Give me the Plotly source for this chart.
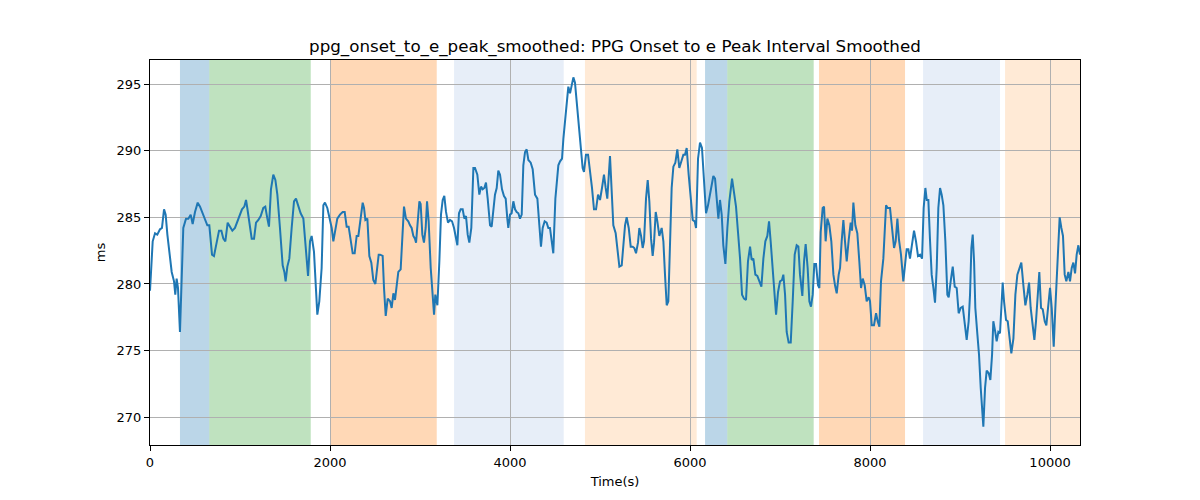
import plotly.graph_objects as go

# ---- data ----
time_s = [
    0, 30, 56, 81, 111, 133, 156, 174, 193, 215, 241, 267, 281, 296, 311, 333, 352, 370, 400, 426,
    452, 474, 500, 530, 556, 585, 611, 637, 659, 689, 711, 741, 767, 793, 815, 837, 863, 889, 915, 944,
    970, 993, 1022, 1048, 1067, 1081, 1104, 1130, 1156, 1178, 1204, 1230, 1259, 1281, 1304, 1322, 1344, 1370, 1393, 1415,
    1444, 1474, 1493, 1507, 1526, 1548, 1574, 1600, 1622, 1648, 1674, 1704, 1730, 1756, 1778, 1796, 1822, 1841, 1859, 1881,
    1907, 1926, 1944, 1970, 2000, 2019, 2037, 2059, 2081, 2111, 2141, 2163, 2185, 2207, 2230, 2252, 2274, 2296, 2315, 2341,
    2363, 2378, 2393, 2415, 2437, 2459, 2481, 2504, 2519, 2541,
    2556, 2585, 2600, 2619, 2641, 2667, 2685, 2704, 2722, 2741, 2759, 2785, 2807, 2822, 2844, 2870, 2889, 2907, 2926, 2944,
    2956, 2974, 2993, 3007, 3026, 3044, 3063, 3078, 3096, 3119, 3141, 3156, 3170, 3193, 3215, 3233, 3252, 3270, 3289, 3311,
    3333, 3356, 3378, 3400, 3415, 3433, 3452, 3474, 3493, 3511, 3530, 3548, 3570, 3593, 3611, 3637, 3659, 3678, 3696, 3715,
    3733, 3752, 3778, 3796, 3815, 3833, 3852, 3870, 3889, 3911, 3933, 3952, 3970, 3981, 4000, 4018, 4037, 4056, 4074, 4093,
    4111, 4130, 4148, 4167, 4185, 4204, 4230, 4252, 4278, 4304, 4326, 4344, 4363, 4385, 4407, 4426, 4444, 4463, 4481, 4504,
    4519, 4537, 4556, 4578, 4593, 4615, 4630, 4648, 4667, 4685, 4704, 4722, 4741, 4767, 4789, 4807, 4822, 4844, 4867, 4889,
    4911, 4933, 4956, 4978, 5000, 5022, 5044, 5063, 5081,
    5111, 5130, 5148, 5174, 5193, 5215, 5241, 5259, 5278, 5296, 5319, 5341, 5363, 5381, 5400, 5422, 5437, 5456, 5474, 5489,
    5511, 5530, 5548, 5567, 5585, 5600, 5619, 5637, 5659, 5685, 5704, 5722, 5741, 5759, 5778, 5796, 5815, 5837, 5859, 5881,
    5904, 5926, 5944, 5963, 5985, 6007, 6030, 6052, 6067, 6089, 6111, 6133, 6156, 6178, 6200, 6222, 6241, 6259, 6278, 6296,
    6315, 6333, 6352, 6370, 6393, 6415, 6437, 6467, 6489, 6511, 6533, 6556, 6578, 6600, 6622, 6644, 6667, 6685, 6704, 6726,
    6748, 6770, 6793, 6815, 6837, 6859, 6878, 6896, 6919, 6941, 6956, 6978, 7000, 7022, 7037, 7056, 7074, 7096, 7119, 7141,
    7163, 7185, 7204, 7222, 7248, 7267, 7285, 7307, 7326, 7344, 7363, 7381, 7400, 7422, 7437, 7452, 7474, 7489, 7507, 7526,
    7548, 7570, 7593, 7611, 7630, 7652,
    7667, 7685, 7704, 7722, 7741, 7763, 7785, 7800, 7815, 7837, 7859, 7881, 7900, 7919, 7941, 7963, 7985, 8000, 8019, 8044,
    8067, 8085, 8104, 8122, 8148, 8178, 8196, 8222, 8244, 8267, 8285, 8304, 8322, 8344, 8370, 8389, 8407, 8426, 8444, 8463,
    8489, 8511, 8533, 8556, 8578, 8596, 8615, 8630, 8648, 8667, 8685, 8704, 8722, 8741, 8759, 8778, 8796, 8815, 8837, 8859,
    8874, 8896, 8919, 8941, 8963, 8985, 9007, 9030, 9052, 9074, 9096, 9111, 9126, 9141, 9156, 9170, 9193, 9211, 9230, 9248,
    9259, 9278, 9296, 9319, 9337, 9356, 9370, 9389, 9407, 9426, 9444, 9459, 9474, 9489, 9511, 9530, 9548, 9570, 9593, 9615,
    9637, 9659, 9681, 9704, 9726, 9748, 9767, 9785, 9807, 9826, 9844, 9867, 9881, 9900, 9919, 9941, 9959, 9978, 10000, 10019,
    10041, 10059, 10074, 10093, 10107, 10126, 10144, 10163, 10181, 10204, 10222, 10241, 10259, 10278, 10296, 10315, 10333,
]
interval_ms = [
    279.5, 283.2, 283.8, 283.7, 284.1, 284.2, 285.6, 285.2, 283.7, 282.4, 280.9, 280.2, 279.2, 280.4, 279.7, 276.4, 280.9, 284.2, 284.9, 284.9,
    285.2, 284.5, 285.4, 286.1, 285.8, 285.3, 284.8, 284.4, 284.4, 282.2, 282.1, 283.2, 284.0, 284.0, 283.4, 283.2, 284.6, 284.3, 284.0, 284.2,
    284.7, 285.1, 285.6, 285.8, 286.3, 285.7, 284.4, 283.4, 283.4, 284.6, 284.8, 285.1, 285.7, 285.8, 284.9, 284.3, 287.1, 288.2, 287.8, 286.7,
    284.2, 281.4, 280.9, 280.2, 281.3, 281.9, 284.2, 286.2, 286.4, 285.9, 285.3, 284.9, 282.7, 280.6, 283.2, 283.6, 282.4, 279.7, 277.7, 278.7,
    281.2, 285.9, 286.1, 285.7, 284.9, 284.2, 283.2, 284.0, 284.9, 285.2, 285.4, 285.4, 284.3, 284.3, 283.2, 282.3, 282.3, 283.6, 283.6, 284.9,
    286.1, 285.7, 284.8, 284.9, 282.1, 281.6, 280.3, 280.0, 280.9, 282.2,
    282.2, 282.1, 279.7, 277.6, 278.9, 278.7, 278.2, 279.3, 278.8, 279.7, 280.9, 281.1, 283.7, 285.8, 284.9, 284.7, 284.4, 284.2, 283.6, 283.4,
    283.1, 284.9, 286.2, 286.0, 283.7, 283.1, 284.2, 286.2, 284.7, 281.2, 279.2, 277.7, 279.2, 278.4, 281.7, 285.2, 286.3, 286.6, 285.4, 284.6,
    284.8, 284.7, 284.2, 283.3, 282.9, 285.3, 285.6, 285.6, 284.9, 285.1, 283.7, 283.1, 284.2, 288.7, 288.7, 288.2, 286.7, 287.3, 287.1, 287.2,
    287.6, 286.4, 284.4, 284.3, 285.8, 286.7, 287.2, 288.5, 288.2, 287.1, 286.6, 286.4, 284.9, 284.2, 285.2, 285.3, 286.2, 285.6, 285.4, 285.3,
    284.9, 285.2, 288.9, 289.9, 290.1, 289.3, 289.1, 288.6, 286.7, 286.4, 284.4, 282.8, 284.2, 284.7, 284.6, 284.2, 284.2, 283.4, 282.3, 286.4,
    287.9, 288.9, 289.2, 289.4, 290.9, 292.7, 293.9, 294.8, 294.3, 294.8, 295.5, 295.1, 293.7, 291.7, 290.2, 288.7, 288.4, 289.7, 289.7, 288.6,
    287.2, 285.6, 285.6, 286.7, 286.3, 287.2, 288.2, 287.2, 286.4,
    289.6, 287.2, 284.4, 283.8, 282.4, 281.3, 281.4, 283.2, 284.4, 285.0, 284.2, 282.8, 282.8, 282.7, 282.3, 283.1, 284.2, 283.6, 282.7, 283.2,
    286.4, 287.8, 286.2, 283.4, 282.1, 283.1, 285.4, 284.7, 283.6, 284.2, 283.2, 280.7, 278.4, 278.7, 282.7, 287.2, 288.8, 289.1, 290.1, 288.7,
    289.2, 289.7, 289.7, 290.2, 288.2, 286.4, 284.8, 284.7, 284.2, 289.4, 290.6, 290.2, 287.7, 285.3, 285.9, 286.7, 287.2, 288.1, 287.9, 286.2,
    284.9, 286.3, 285.2, 282.9, 281.5, 284.2, 286.2, 287.9, 286.9, 285.8, 283.9, 281.9, 279.2, 278.9, 278.8, 281.7, 282.8, 281.8, 281.9, 280.7,
    280.6, 280.2, 279.8, 281.9, 283.2, 283.6, 284.7, 283.2, 281.2, 279.2, 277.7, 279.4, 280.2, 280.3, 280.7, 279.2, 276.4, 275.6, 275.6, 278.7,
    282.2, 282.9, 282.8, 280.7, 279.1, 281.7, 283.0, 281.2, 278.7, 278.3, 279.2, 281.5, 281.5, 279.9, 279.7, 283.9, 285.7, 285.8, 283.2, 284.9,
    284.4, 283.2, 280.7, 279.9, 279.3, 280.7,
    281.2, 283.2, 284.8, 283.2, 281.7, 283.3, 284.6, 284.0, 286.1, 284.4, 283.8, 281.7, 279.7, 280.4, 279.9, 278.7, 279.0, 278.7, 276.9, 276.9,
    277.8, 277.2, 276.8, 280.2, 281.9, 285.9, 285.7, 285.7, 284.2, 282.7, 283.2, 284.9, 283.3, 282.2, 280.2, 281.7, 282.6, 282.6, 281.9, 282.8,
    284.0, 283.2, 282.1, 282.2, 281.9, 285.7, 287.2, 286.3, 286.3, 283.2, 280.7, 279.7, 278.6, 281.2, 285.7, 287.2, 286.7, 285.9, 283.2, 279.2,
    279.0, 280.2, 281.3, 279.8, 279.7, 277.8, 278.2, 278.3, 276.9, 275.8, 277.2, 279.2, 282.7, 283.7, 281.7, 278.2, 276.2, 274.7, 272.2, 270.2,
    269.3, 272.2, 273.5, 273.3, 272.8, 274.7, 277.2, 276.5, 275.7, 276.4, 276.3, 278.2, 280.1, 278.7, 277.3, 277.2, 275.9, 274.8, 275.9, 279.2,
    280.7, 281.2, 281.6, 279.9, 278.4, 279.2, 280.1, 278.2, 276.7, 275.8, 277.2, 279.7, 280.9, 278.2, 278.1, 277.2, 276.9, 278.2, 279.7, 278.2,
    275.3, 278.2, 280.2, 283.2, 285.0, 284.2, 283.6, 280.7, 280.2, 280.9, 280.2, 281.2, 281.6, 280.8, 282.2, 282.9, 282.2,
]

# shaded segments: (start, end, colour)
seg_start = [333, 659, 2003, 3378, 4833, 6167, 6414, 7433, 8589, 9500]
seg_end = [659, 1786, 3186, 4597, 6074, 6414, 7374, 8389, 9444, 10333]
seg_color = [
    "rgba(31,119,180,0.3)", "rgba(44,160,44,0.3)", "rgba(255,127,14,0.3)", "rgba(174,199,232,0.3)",
    "rgba(255,187,120,0.3)", "rgba(31,119,180,0.3)", "rgba(44,160,44,0.3)", "rgba(255,127,14,0.3)",
    "rgba(174,199,232,0.3)", "rgba(255,187,120,0.3)",
]

x_ticks = [0, 2000, 4000, 6000, 8000, 10000]
x_tick_labels = ["0", "2000", "4000", "6000", "8000", "10000"]
y_ticks = [270, 275, 280, 285, 290, 295]

fig = go.Figure()
fig.add_trace(go.Scatter(
    x=time_s, y=interval_ms, mode="lines",
    line=dict(color="#1f77b4", width=2), showlegend=False,
))

for s, e, c in zip(seg_start, seg_end, seg_color):
    fig.add_shape(type="rect", xref="x", yref="paper", x0=s, x1=e, y0=0, y1=1,
                  fillcolor=c, line=dict(width=0), layer="below")

font = "DejaVu Sans"
fig.update_layout(
    width=1200, height=500,
    margin=dict(l=142, r=128, t=52, b=63),
    paper_bgcolor="white", plot_bgcolor="white",
    font=dict(family=font, size=13, color="black"),
    title=dict(text="ppg_onset_to_e_peak_smoothed: PPG Onset to e Peak Interval Smoothed",
               x=0.5058, xref="container", xanchor="center",
               y=0.924, yref="container", yanchor="middle",
               font=dict(family=font, size=16.7, color="black")),
)
axis_common = dict(
    showgrid=True, gridcolor="#b0b0b0", gridwidth=1,
    showline=True, linecolor="black", linewidth=1, mirror=True,
    ticks="outside", ticklen=5, tickcolor="black", tickwidth=1,
    zeroline=False, tickfont=dict(family=font, size=13, color="black"),
)
fig.update_xaxes(range=[0, 10333], tickvals=x_ticks, ticktext=x_tick_labels,
                 title=dict(text="Time(s)", standoff=8, font=dict(family=font, size=13)),
                 **axis_common)
fig.update_yaxes(range=[267.92, 296.8], tickvals=y_ticks,
                 title=dict(text="ms", standoff=8, font=dict(family=font, size=13)),
                 **axis_common)

fig.write_html("out.html")
